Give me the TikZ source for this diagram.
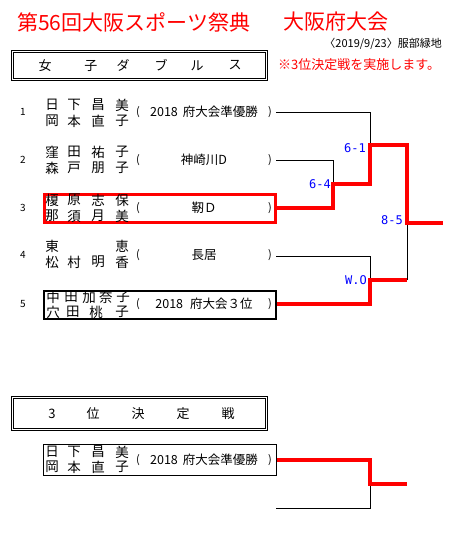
\documentclass[tikz,border=0pt]{standalone}
\usepackage{fontspec}
\setmainfont{Noto Sans CJK JP}
\newfontfamily\scorefont{DejaVu Sans Mono}
\definecolor{pred}{RGB}{255,0,0}
\definecolor{pblue}{RGB}{0,0,255}
\tikzset{
  txt/.style={inner sep=0pt, font=\fontsize{#1}{#1}\selectfont},
  txt/.default=13,
  nm/.style={txt=13.5},
  num/.style={txt=10},
  par/.style={txt=11},
  aff/.style={txt=12.5},
  score/.style={inner sep=0pt, anchor=east, text=pblue, font=\scorefont\fontsize{12}{12}\selectfont},
  outerbox/.style={draw, line width=1pt, inner sep=0pt},
  thin/.style={line width=1pt},
  win/.style={draw=pred, line width=3.4pt},
}
\newcommand\namerow[6]{%
  \node[nm] (#1-1) at (52,#2) {#3};
  \node[nm] (#1-2) at (74,#2) {#4};
  \node[nm] (#1-3) at (98,#2) {#5};
  \node[nm] (#1-4) at (122,#2) {#6};}
\newcommand\parens[2]{%
  \node[par] (#1-l) at (138,#2) {(};
  \node[par] (#1-r) at (270,#2) {)};}
\newcommand\innerframe[1]{%
  \draw[line width=1pt] ([shift={(2.5,2.5)}]#1.north west) rectangle ([shift={(-2.5,-2.5)}]#1.south east);}
\begin{document}
\begin{tikzpicture}[x=1pt,y=-1pt]
\useasboundingbox (0,0) rectangle (463,542);
% titles
\node[txt=21, text=pred, anchor=west] (title1) at (17,22) {第56回大阪スポーツ祭典};
\node[txt=21, text=pred, anchor=west] (title2) at (283,22) {大阪府大会};
\node[txt=11, anchor=east] (date) at (442,44) {〈2019/9/23〉服部緑地};
\node[txt=13, text=pred, anchor=west] (note) at (278,65) {※3位決定戦を実施します。};
% header box 1
\node[outerbox, minimum width=256pt, minimum height=30pt] (hbox1) at (139.5,65.5) {};
\innerframe{hbox1}
\node[txt=13] (h1) at (45,65.5) {女};
\node[txt=13] (h2) at (91,65.5) {子};
\node[txt=13] (h3) at (123,65.5) {ダ};
\node[txt=13] (h4) at (161,65.5) {ブ};
\node[txt=13] (h5) at (197,65.5) {ル};
\node[txt=13] (h6) at (235,65.5) {ス};
% entries
\node[num] (n1) at (23,112) {1};
\namerow{r1a}{105}{日}{下}{昌}{美}
\namerow{r1b}{121}{岡}{本}{直}{子}
\parens{p1}{112}
\node[aff] (a1) at (204,112) {2018\hspace{5pt}府大会準優勝};

\node[num] (n2) at (23,160) {2};
\namerow{r2a}{152}{窪}{田}{祐}{子}
\namerow{r2b}{168}{森}{戸}{朋}{子}
\parens{p2}{160}
\node[aff] (a2) at (204,160) {神崎川D};

\node[num] (n3) at (23,208) {3};
\node[win, minimum width=231pt, minimum height=28pt, inner sep=0pt] (box3) at (160,208.5) {};
\namerow{r3a}{200}{榎}{原}{志}{保}
\namerow{r3b}{216}{那}{須}{月}{美}
\parens{p3}{208}
\node[aff] (a3) at (204,208) {靭Ｄ};

\node[num] (n4) at (23,255) {4};
\node[nm] (r4a-1) at (52,246) {東};
\node[nm] (r4a-4) at (122,246) {恵};
\namerow{r4b}{262}{松}{村}{明}{香}
\parens{p4}{255}
\node[aff] (a4) at (204,255) {長居};

\node[num] (n5) at (23,304) {5};
\node[draw, line width=2pt, minimum width=232pt, minimum height=28pt, inner sep=0pt] (box5) at (160,305) {};
\node[nm] (r5a-1) at (53,297) {中};
\node[nm] (r5a-2) at (71,297) {田};
\node[nm] (r5a-3) at (89,297) {加};
\node[nm] (r5a-4) at (106,297) {奈};
\node[nm] (r5a-5) at (123,297) {子};
\node[nm] (r5b-1) at (53,312) {穴};
\node[nm] (r5b-2) at (73,312) {田};
\node[nm] (r5b-3) at (96,312) {桃};
\node[nm] (r5b-4) at (122,312) {子};
\parens{p5}{304}
\node[aff] (a5) at (204,304) {2018\hspace{7pt}府大会３位};

% bracket coordinates
\coordinate (e1) at (276,112);
\coordinate (e2) at (276,160);
\coordinate (e4) at (276,256);
\coordinate (j1) at (370,145);
\coordinate (j2) at (333,184);
\coordinate (k2) at (370,184);
\coordinate (k1) at (407,145);
\coordinate (j3) at (407,223);
\coordinate (fin) at (443,223);
\coordinate (j4) at (370,280);
\coordinate (k4) at (407,280);

\draw[thin] (e1) -| (j1);
\draw[thin] (e2) -| (j2);
\draw[thin] (e4) -| (j4);
\draw[thin] (k4) -- (j3);
\draw[win, line join=miter] (box3.east |- 0,208) -| (j2) -- (k2) -- (j1) -- (k1) -- (j3) -- (fin);
\draw[win, line join=miter] (box5.east |- 0,304) -| (j4) -- (k4);

\node[score] (s1) at (366,148) {6-1};
\node[score] (s2) at (331,184) {6-4};
\node[score] (s3) at (403,220) {8-5};
\node[score] (s4) at (367,280) {W.O};

% third place
\node[outerbox, minimum width=256pt, minimum height=34pt] (hbox2) at (139.5,413.5) {};
\innerframe{hbox2}
\node[txt=13] (t1) at (52,413.5) {3};
\node[txt=13] (t2) at (93,413.5) {位};
\node[txt=13] (t3) at (138,413.5) {決};
\node[txt=13] (t4) at (183,413.5) {定};
\node[txt=13] (t5) at (228,413.5) {戦};

\node[draw, thin, minimum width=233pt, minimum height=31pt, inner sep=0pt] (box6) at (160,460) {};
\namerow{r6a}{452}{日}{下}{昌}{美}
\namerow{r6b}{467}{岡}{本}{直}{子}
\parens{p6}{460}
\node[aff] (a6) at (204,460) {2018\hspace{5pt}府大会準優勝};

\coordinate (j6) at (370,484);
\coordinate (k6) at (407,484);
\coordinate (e7) at (276,508);
\draw[thin] (e7) -| (j6);
\draw[win, line join=miter] (box6.east) -| (j6) -- (k6);
\end{tikzpicture}
\end{document}
